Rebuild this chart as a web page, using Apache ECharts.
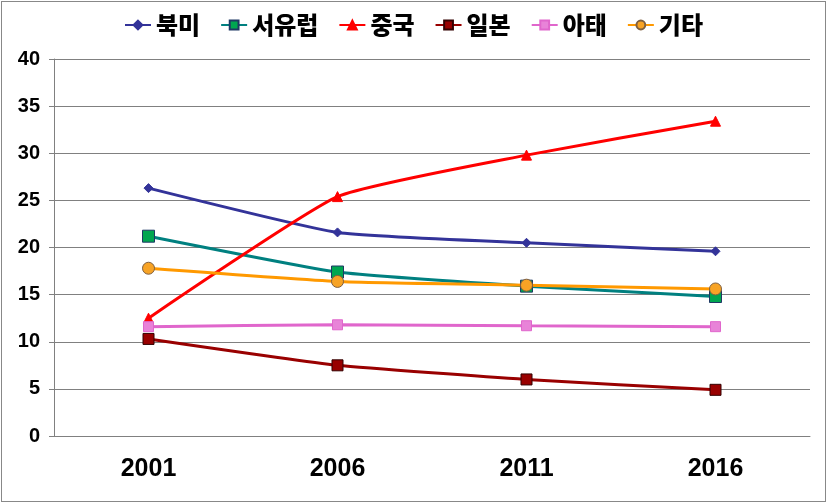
<!DOCTYPE html>
<html><head><meta charset="utf-8">
<script src="https://cdn.jsdelivr.net/npm/echarts@6/dist/echarts.min.js"></script>
<style>
html,body{margin:0;padding:0;background:#fff;}
#c{position:absolute;left:0;top:0;width:827px;height:503px;}
#b{position:absolute;left:1px;top:1px;width:823px;height:499px;border:1px solid #888;pointer-events:none;}
</style></head>
<body><div id="c"></div><div id="b"></div>
<script>
const categories = ['2001','2006','2011','2016'];
const seriesNames = ['북미','서유럽','중국','일본','아태','기타'];
const northAmerica = [26.3, 21.6, 20.5, 19.6];
const westEurope = [21.2, 17.4, 15.9, 14.8];
const china = [12.5, 25.4, 29.8, 33.4];
const japan = [10.3, 7.5, 6.0, 4.9];
const asiaPacific = [11.6, 11.8, 11.7, 11.6];
const others = [17.8, 16.4, 16.0, 15.6];
const yTicks = [0,5,10,15,20,25,30,35,40];

const dataSets = [northAmerica, westEurope, china, japan, asiaPacific, others];
const styles = [
  {line:'#333399', symbol:'diamond', size:9, fill:'#333399', border:'#333399'},
  {line:'#008080', symbol:'rect', size:12, fill:'#00A650', border:'#1F3864'},
  {line:'#FF0000', symbol:'triangle', size:10, fill:'#FF0000', border:'#FF0000'},
  {line:'#990000', symbol:'rect', size:11, fill:'#990000', border:'#330000'},
  {line:'#E066CC', symbol:'rect', size:10, fill:'#E883D8', border:'#E066CC'},
  {line:'#FF9900', symbol:'circle', size:12, fill:'#F7A325', border:'#7F5F3F'}
];

const chart = echarts.init(document.getElementById('c'));
chart.setOption({
  animation:false,
  backgroundColor:'#fff',
  legend:{
    top:8, left:'center', itemWidth:26, itemHeight:11, itemGap:20,
    textStyle:{fontFamily:'Noto Sans CJK KR', fontWeight:900, fontSize:24, color:'#000'},
    data: seriesNames
  },
  grid:{left:54, right:17, top:59, bottom:67},
  xAxis:{
    type:'category', data:categories, boundaryGap:true,
    axisLine:{lineStyle:{color:'#808080', width:1}},
    axisTick:{show:false},
    axisLabel:{fontFamily:'Arial, Liberation Sans', fontWeight:'bold', fontSize:25, color:'#000', margin:21}
  },
  yAxis:{
    type:'value', min:yTicks[0], max:yTicks[yTicks.length-1], interval:5,
    axisLine:{show:true, lineStyle:{color:'#808080'}},
    axisTick:{show:true, length:5, lineStyle:{color:'#808080'}},
    splitLine:{lineStyle:{color:'#808080', width:1}},
    axisLabel:{fontFamily:'Arial, Liberation Sans', fontWeight:'bold', fontSize:20, color:'#000', margin:14}
  },
  series: seriesNames.map((n,i)=>({
    name:n, type:'line', data:dataSets[i], smooth:0.15,
    symbol:styles[i].symbol, symbolSize:styles[i].size, showSymbol:true,
    lineStyle:{color:styles[i].line, width:3},
    itemStyle:{color:styles[i].fill, borderColor:styles[i].border, borderWidth:1}
  }))
});
</script></body></html>
